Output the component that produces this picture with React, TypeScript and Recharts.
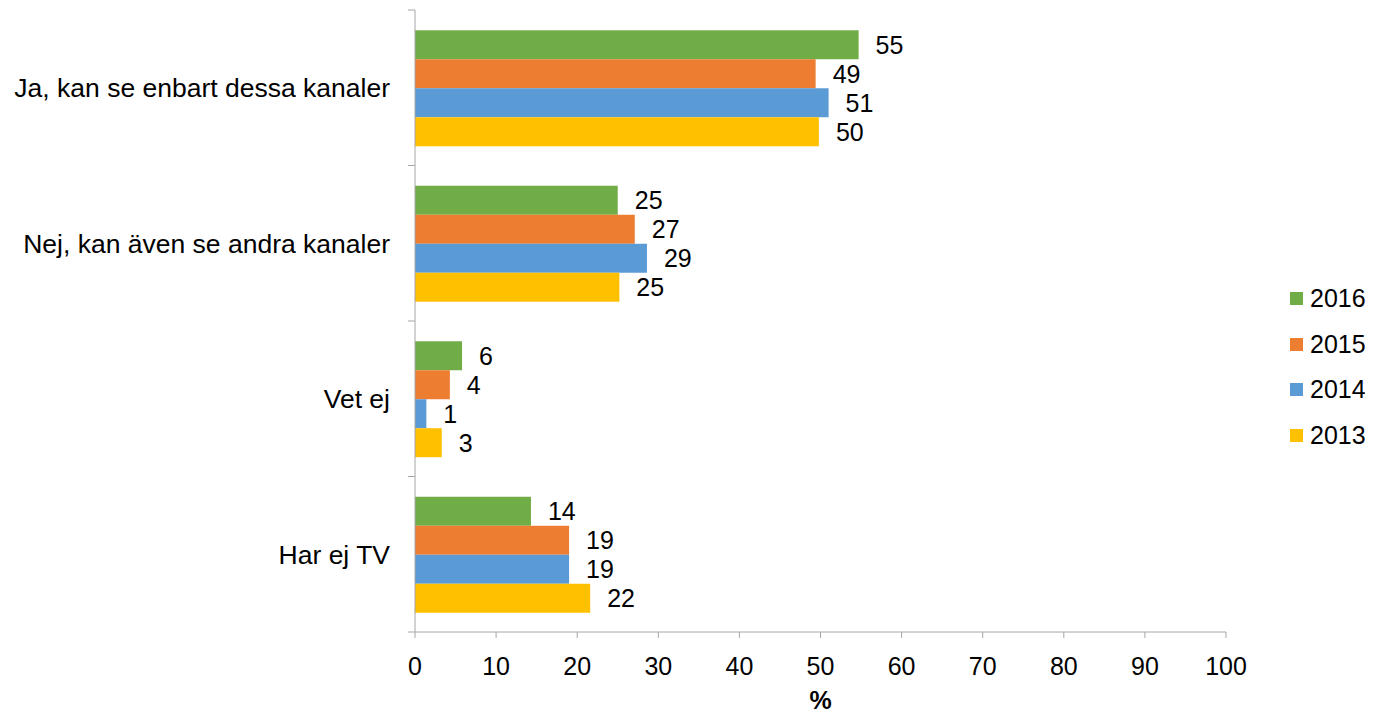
import React from "react";
import { BarChart, Bar, XAxis, YAxis, Legend, LabelList } from "recharts";

const categories = [
  "Ja, kan se enbart dessa kanaler",
  "Nej, kan även se andra kanaler",
  "Vet ej",
  "Har ej TV",
];
const v2016 = [54.7, 25.0, 5.8, 14.3];
const v2015 = [49.4, 27.1, 4.3, 19.0];
const v2014 = [51.0, 28.6, 1.4, 19.0];
const v2013 = [49.8, 25.2, 3.3, 21.6];
const xTicks = [0, 10, 20, 30, 40, 50, 60, 70, 80, 90, 100];

const series = [
  { key: "2016", color: "#70AD47" },
  { key: "2015", color: "#ED7D31" },
  { key: "2014", color: "#5B9BD5" },
  { key: "2013", color: "#FFC000" },
];

const data = categories.map((name, i) => ({
  name,
  "2016": v2016[i],
  "2015": v2015[i],
  "2014": v2014[i],
  "2013": v2013[i],
}));

const FONT = "'Liberation Sans', Arial, sans-serif";
const FS = 25;
const AXIS = "#A6A6A6";
const W = 1365;
const H = 708;
const M = { top: 2, right: 147, bottom: 0, left: 0 };
const XAXIS_H = 84;
const PLOT_H = H - M.top - M.bottom - XAXIS_H;
const BAND = PLOT_H / categories.length;
const TICK_SIZE = 7;
const TICK_MARGIN = 16;

const YTick = (props: any) => {
  const { x, y, payload, index } = props;
  const ax = x + TICK_SIZE + TICK_MARGIN;
  return (
    <g>
      <line x1={ax - TICK_SIZE} x2={ax} y1={y - BAND / 2} y2={y - BAND / 2} stroke={AXIS} strokeWidth={1} />
      {index === categories.length - 1 && (
        <line x1={ax - TICK_SIZE} x2={ax} y1={y + BAND / 2} y2={y + BAND / 2} stroke={AXIS} strokeWidth={1} />
      )}
      <text x={x - 2} y={y} dy="0.355em" textAnchor="end" fontFamily={FONT} fontSize={26.5} fill="#000">
        {payload.value}
      </text>
    </g>
  );
};

const renderLegend = () => (
  <div style={{ fontFamily: FONT, fontSize: FS, color: "#000", whiteSpace: "nowrap" }}>
    {series.map((s) => (
      <div key={s.key} style={{ display: "flex", alignItems: "center", height: 45.5 }}>
        <div style={{ width: 13, height: 13, background: s.color, marginRight: 7, flexShrink: 0 }} />
        <span>{s.key}</span>
      </div>
    ))}
  </div>
);

export default function App() {
  return (
    <div style={{ width: W, height: H }}>
      <BarChart
        width={W}
        height={H}
        data={data}
        layout="vertical"
        margin={M}
        barCategoryGap="13%"
        barGap={0}
      >
        <XAxis
          type="number"
          domain={[0, 100]}
          ticks={xTicks}
          interval={0}
          height={XAXIS_H}
          stroke={AXIS}
          tickSize={6}
          tickMargin={19}
          tick={{ fill: "#000", fontSize: FS, fontFamily: FONT }}
          label={{
            value: "%",
            position: "insideBottom",
            offset: 7,
            style: { fill: "#000", fontSize: FS, fontFamily: FONT, fontWeight: "bold" },
          }}
        />
        <YAxis
          type="category"
          dataKey="name"
          width={407}
          stroke={AXIS}
          tickLine={false}
          tickSize={TICK_SIZE}
          tickMargin={TICK_MARGIN}
          tick={<YTick />}
          interval={0}
        />
        <Legend
          layout="vertical"
          align="center"
          verticalAlign="middle"
          content={renderLegend}
          wrapperStyle={{ position: "absolute", left: 1282, top: 268, width: 80 }}
        />
        {series.map((s) => (
          <Bar key={s.key} dataKey={s.key} fill={s.color} isAnimationActive={false}>
            <LabelList
              dataKey={s.key}
              position="right"
              offset={17}
              formatter={(v: any) => Math.round(Number(v))}
              style={{ fill: "#000", fontSize: FS, fontFamily: FONT }}
            />
          </Bar>
        ))}
      </BarChart>
    </div>
  );
}
